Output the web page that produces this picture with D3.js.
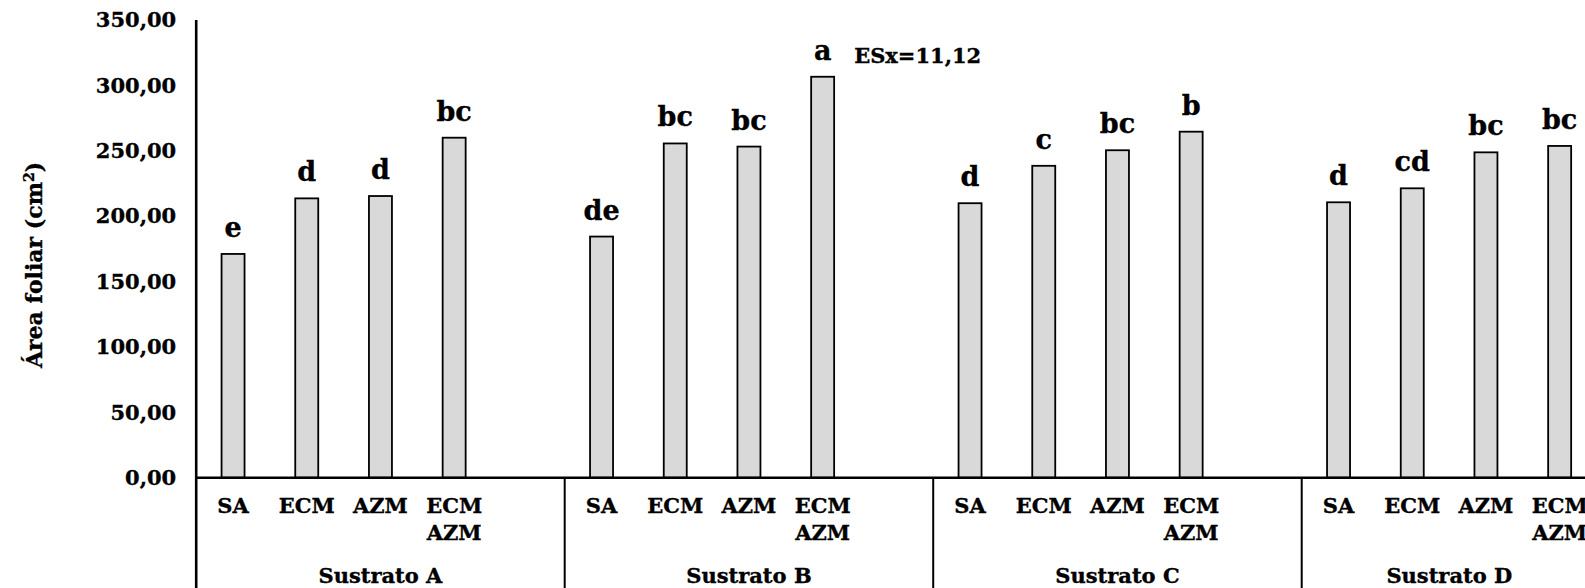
<!DOCTYPE html>
<html>
<head>
<meta charset="utf-8">
<script src="https://cdn.jsdelivr.net/npm/d3@7"></script>
<style>
	body { margin: 0; background: #fff; }
	svg { display: block; }
	text { font-family: "DejaVu Serif", serif; font-weight: bold; fill: #000; stroke: #000; stroke-width: 0.35; }
	.bar { fill: #d9d9d9; stroke: #000; stroke-width: 1.8; }
	.rule { stroke: #000; stroke-width: 2; }
</style>
</head>
<body>
<div id="chart"></div>
<script>
//data
let groups = ["Sustrato A", "Sustrato B", "Sustrato C", "Sustrato D"];
let treatments = ["SA", "ECM", "AZM", "ECM AZM"];
let valuesA = [171.1, 213.6, 215.4, 260.0];
let valuesB = [184.4, 255.6, 253.2, 306.6];
let valuesC = [209.9, 238.5, 250.4, 264.6];
let valuesD = [210.6, 221.3, 248.8, 253.7];
let lettersA = ["e", "d", "d", "bc"];
let lettersB = ["de", "bc", "bc", "a"];
let lettersC = ["d", "c", "bc", "b"];
let lettersD = ["d", "cd", "bc", "bc"];
let yTicks = [0, 50, 100, 150, 200, 250, 300, 350];
let errorNote = "ESx=11,12";
let yTitle = "Área foliar (cm";

let values = [valuesA, valuesB, valuesC, valuesD];
let letters = [lettersA, lettersB, lettersC, lettersD];
let rows = [];
groups.forEach((g, gi) => {
	treatments.forEach((t, ti) => {
		rows.push({ group: g, treat: t, value: values[gi][ti], letter: letters[gi][ti] });
	});
});

let W = 1585, H = 588;
let plotLeft = 196.2, plotTop = 20, plotBase = 477.7;
let groupWidth = 368.5;

let svg = d3.select("#chart").append("svg")
	.attr("width", W)
	.attr("height", H);

//outer scale for substrates, inner one has an empty fifth slot
let x0 = d3.scaleBand()
	.domain(groups)
	.range([plotLeft, plotLeft + groups.length * groupWidth]);
let x1 = d3.scaleBand()
	.domain(treatments.concat(["blank"]))
	.range([0, groupWidth])
	.paddingInner(0.688)
	.paddingOuter(0.344);

let y = d3.scaleLinear().domain([0, 350]).range([plotBase, plotTop]);

//y axis, no tick marks
let fmt = d => d3.format(".2f")(d).replace(".", ",");
let yAxis = svg.append("g")
	.attr("transform", `translate(${plotLeft}, 0)`)
	.call(d3.axisLeft(y).tickValues(yTicks).tickSize(0).tickPadding(20).tickFormat(fmt));
yAxis.select(".domain").remove();
yAxis.selectAll("text")
	.style("font-family", "DejaVu Serif")
	.style("font-weight", "bold")
	.style("font-size", "21px")
	.attr("fill", "#000");

//bars
let barX = d => x0(d.group) + x1(d.treat);
svg.selectAll("rect.bar")
	.data(rows)
	.enter()
	.append("rect")
	.attr("class", "bar")
	.attr("x", barX)
	.attr("y", d => y(d.value))
	.attr("width", x1.bandwidth())
	.attr("height", d => y(0) - y(d.value));

//letters of the mean test
svg.selectAll("text.letter")
	.data(rows)
	.enter()
	.append("text")
	.attr("class", "letter")
	.attr("x", d => barX(d) + x1.bandwidth() / 2)
	.attr("y", d => y(d.value) - 17)
	.attr("text-anchor", "middle")
	.style("font-size", "27px")
	.text(d => d.letter);

//standard error note next to the tallest bar
let tallest = rows.reduce((a, b) => (b.value > a.value ? b : a));
svg.append("text")
	.attr("x", barX(tallest) + x1.bandwidth() + 20)
	.attr("y", y(tallest.value) - 14)
	.style("font-size", "21px")
	.text(errorNote);

//axis lines and group separators
svg.append("line").attr("class", "rule")
	.attr("x1", plotLeft).attr("x2", plotLeft)
	.attr("y1", plotTop).attr("y2", H)
	.style("stroke-width", 2.6);
svg.append("line").attr("class", "rule")
	.attr("x1", plotLeft).attr("x2", W)
	.attr("y1", y(0)).attr("y2", y(0))
	.style("stroke-width", 2.4);
svg.selectAll("line.sep")
	.data(groups.slice(1))
	.enter()
	.append("line")
	.attr("class", "rule sep")
	.attr("x1", d => x0(d)).attr("x2", d => x0(d))
	.attr("y1", y(0)).attr("y2", H);

//category labels, two lines where needed
let cat = svg.selectAll("text.cat")
	.data(rows)
	.enter()
	.append("text")
	.attr("class", "cat")
	.attr("text-anchor", "middle")
	.style("font-size", "21px");
cat.selectAll("tspan")
	.data(d => d.treat.split(" ").map(s => ({ s: s, x: barX(d) + x1.bandwidth() / 2 })))
	.enter()
	.append("tspan")
	.attr("x", d => d.x)
	.attr("y", (d, i) => 513 + i * 27)
	.text(d => d.s);

//substrate labels, centred in the visible part of each group
svg.selectAll("text.grp")
	.data(groups)
	.enter()
	.append("text")
	.attr("class", "grp")
	.attr("text-anchor", "middle")
	.attr("x", d => (x0(d) + Math.min(x0(d) + x0.bandwidth(), W + 12)) / 2)
	.attr("y", 583)
	.style("font-size", "21px")
	.text(d => d);

//y title
let title = svg.append("text")
	.attr("transform", `translate(42, 265) rotate(-90)`)
	.attr("text-anchor", "middle")
	.style("font-size", "22px");
title.append("tspan").text(yTitle);
title.append("tspan").attr("dy", -8).style("font-size", "14px").text("2");
title.append("tspan").attr("dy", 8).text(")");
</script>
</body>
</html>
